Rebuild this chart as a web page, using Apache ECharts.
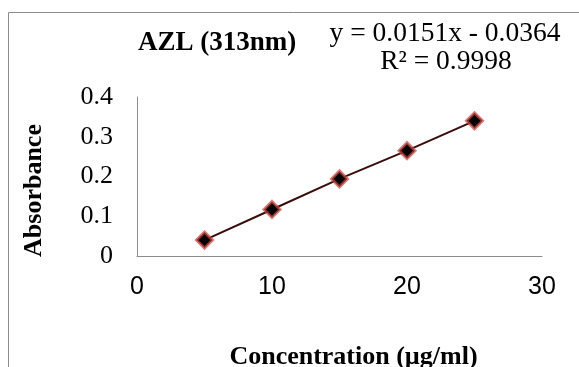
<!DOCTYPE html>
<html>
<head>
<meta charset="utf-8">
<script src="https://cdn.jsdelivr.net/npm/echarts@6/dist/echarts.min.js"></script>
<style>
  html, body { margin: 0; padding: 0; background: #fff; }
  #chart { width: 579px; height: 367px; }
</style>
</head>
<body>
<div id="chart"></div>
<script>
// calibration points
const concentration = [5, 10, 15, 20, 25];
const absorbance = [0.040, 0.117, 0.194, 0.265, 0.340];
const titleText = 'AZL (313nm)';
const equationText = 'y = 0.0151x - 0.0364';
const r2Text = 'R² = 0.9998';

const chart = echarts.init(document.getElementById('chart'));
const serif = '"Liberation Serif", "DejaVu Serif", serif';
const sans = '"Liberation Sans", "DejaVu Sans", sans-serif';

chart.setOption({
  backgroundColor: '#fff',
  animation: false,
  grid: { left: 137, top: 97, right: 37, bottom: 111, outerBoundsMode: 'none' },
  graphic: [
    {
      type: 'polyline',
      shape: { points: [[8.5, 367], [8.5, 12.5], [579, 12.5]] },
      style: { stroke: '#8c8c8c', lineWidth: 1, fill: null }
    },
    {
      type: 'text', x: 138, y: 43,
      style: { text: titleText, font: 'bold 27px ' + serif, fill: '#000', align: 'left', verticalAlign: 'middle' }
    },
    {
      type: 'text', x: 445, y: 34,
      style: { text: equationText, font: '27.5px ' + serif, fill: '#000', align: 'center', verticalAlign: 'middle' }
    },
    {
      type: 'text', x: 446, y: 62,
      style: { text: r2Text, font: '27.5px ' + serif, fill: '#000', align: 'center', verticalAlign: 'middle' }
    }
  ],
  xAxis: {
    type: 'value', min: 0, max: 30, interval: 10,
    name: 'Concentration (µg/ml)',
    nameLocation: 'middle', nameGap: 88,
    nameTextStyle: { fontFamily: serif, fontWeight: 'bold', fontSize: 26, color: '#000', padding: [0, 0, 0, 28] },
    axisLine: { lineStyle: { color: '#8c8c8c', width: 1 } },
    axisTick: { show: false },
    splitLine: { show: false },
    axisLabel: { fontFamily: sans, fontSize: 25, color: '#000', margin: 19 }
  },
  yAxis: {
    type: 'value', min: 0, max: 0.4, interval: 0.1,
    name: 'Absorbance',
    nameLocation: 'middle', nameGap: 90, nameRotate: 90,
    nameTextStyle: { fontFamily: serif, fontWeight: 'bold', fontSize: 26, color: '#000', padding: [0, 28, 0, 0] },
    axisLine: { show: true, lineStyle: { color: '#8c8c8c', width: 1 } },
    axisTick: { show: false },
    splitLine: { show: false },
    axisLabel: { fontFamily: serif, fontSize: 26, color: '#000', margin: 24 }
  },
  series: [{
    type: 'line',
    data: concentration.map((c, i) => [c, absorbance[i]]),
    symbol: 'diamond',
    symbolSize: 16,
    lineStyle: { color: '#3a0c0c', width: 2 },
    itemStyle: { color: '#000', borderColor: 'rgba(200,70,65,0.7)', borderWidth: 3 }
  }]
});
</script>
</body>
</html>
